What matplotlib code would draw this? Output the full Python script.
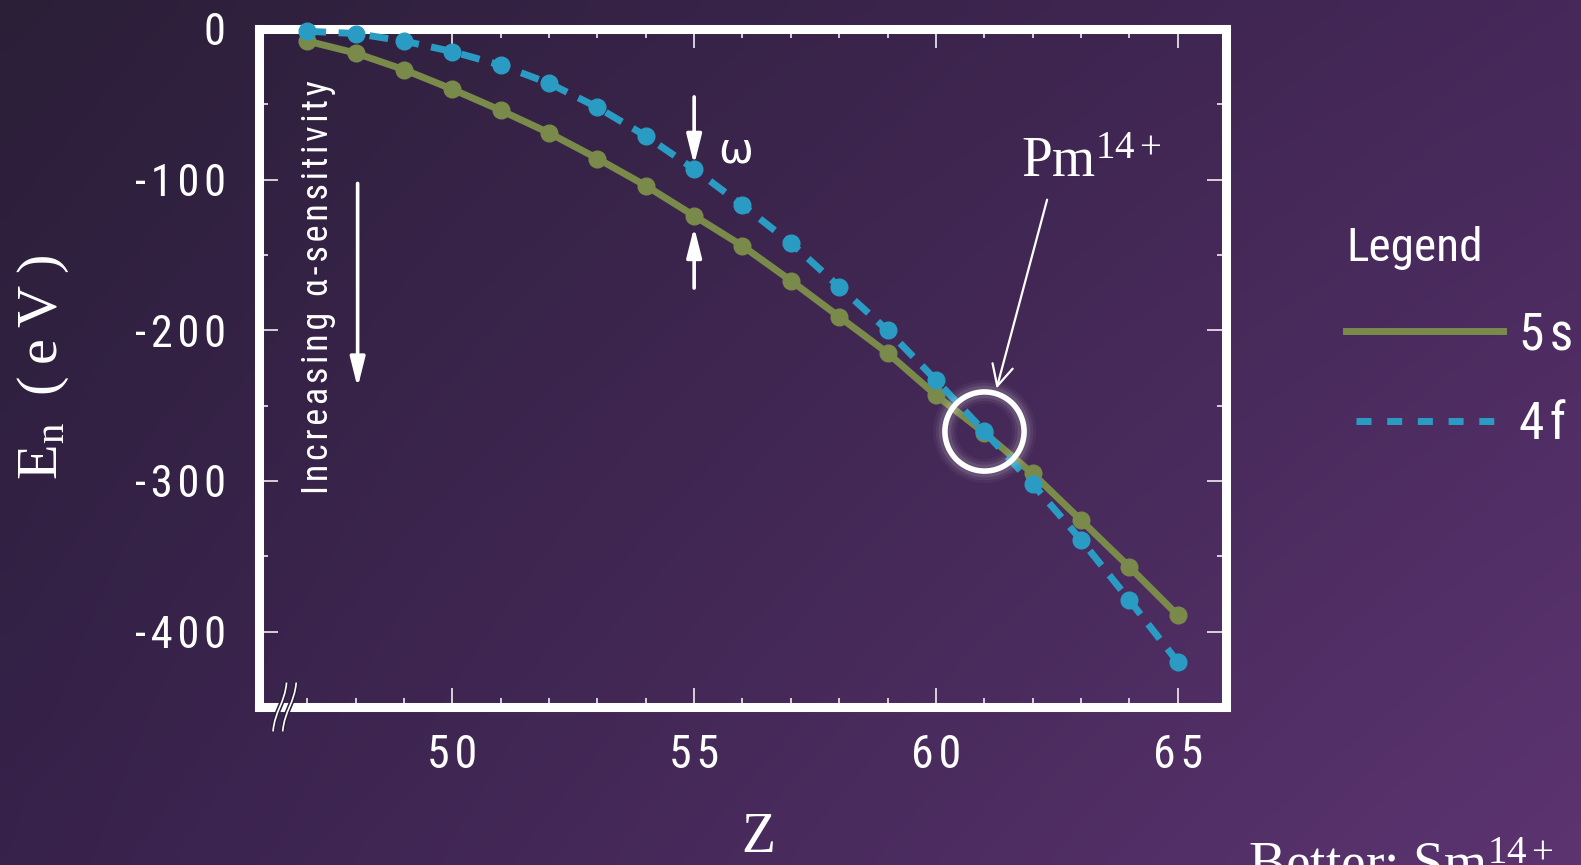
import os
import numpy as np
import matplotlib
matplotlib.use("Agg")
import matplotlib.pyplot as plt
from matplotlib.lines import Line2D
from matplotlib.ticker import MultipleLocator
from matplotlib.path import Path
from matplotlib.patches import PathPatch
from matplotlib import font_manager as fm
from matplotlib.font_manager import FontProperties

# ---------------- data ----------------
Z = [47, 48, 49, 50, 51, 52, 53, 54, 55, 56, 57, 58, 59, 60, 61, 62, 63, 64, 65]
E_5s = [-8, -16, -27, -40, -54, -69, -86, -104, -124, -144, -167, -191, -215, -243, -268, -295, -326, -357, -389]
E_4f = [-1.5, -3, -8, -15, -24, -36, -52, -71, -93, -117, -142, -171, -200, -233, -267, -302, -339, -379, -420]
series_labels = ["5s", "4f"]
x_ticks = [50, 55, 60, 65]
y_ticks = [0, -100, -200, -300, -400]

GREEN = "#7a8a4a"
BLUE = "#2a9cc4"
WHITE = "white"

# ---------------- fonts ----------------
def find_condensed():
    entries = fm.fontManager.ttflist
    prefs = ["NotoSans-ExtraCondensed.", "NotoSans-Condensed.", "LiberationSansNarrow-Regular",
             "RobotoCondensed-Regular", "DejaVuSansCondensed.", "NotoSans-SemiCondensed.",
             "OpenSans-CondensedRegular", "OpenSans_Condensed-Regular"]
    for p in prefs:
        for e in entries:
            if os.path.basename(e.fname).startswith(p):
                return e.fname
    bad = ("Bold", "Italic", "Light", "Thin", "Black", "Medium", "Semi", "Extra", "Oblique")
    for e in entries:
        b = os.path.basename(e.fname)
        if ("Condensed" in b or "Narrow" in b) and not any(x in b for x in bad):
            return e.fname
    return None

COND = find_condensed()

def cfont(size):
    if COND:
        return FontProperties(fname=COND, size=size)
    return FontProperties(family="DejaVu Sans", size=size)

SERIF = ["Liberation Serif", "DejaVu Serif"]
plt.rcParams["font.family"] = ["DejaVu Sans"]
plt.rcParams["mathtext.fontset"] = "custom"
plt.rcParams["mathtext.rm"] = "Liberation Serif"
plt.rcParams["mathtext.it"] = "Liberation Serif:italic"
plt.rcParams["lines.scale_dashes"] = False

HS = "\u200a"  # hair space used as letter tracking

def track(s, sep=HS):
    return sep.join(s)

W, H = 1581, 865
fig = plt.figure(figsize=(W / 100, H / 100), dpi=100)

# ---------------- background gradient ----------------
bg = fig.add_axes([0, 0, 1, 1], zorder=-10)
tl = np.array([43, 31, 56]); tr = np.array([70, 40, 90])
bl = np.array([55, 34, 75]); br = np.array([92, 52, 112])
u = np.linspace(0, 1, 120)[None, :, None]
v = np.linspace(0, 1, 70)[:, None, None]
grad = (tl * (1 - u) * (1 - v) + tr * u * (1 - v) + bl * (1 - u) * v + br * u * v) / 255.0
bg.imshow(grad, aspect="auto", extent=[0, 1, 0, 1], interpolation="bilinear")
bg.set_axis_off()

# ---------------- main axes ----------------
ax = fig.add_axes([259 / W, 1 - 707 / H, (1226 - 259) / W, (707 - 29) / H])
ax.patch.set_alpha(0)

for s in ax.spines.values():
    s.set_color(WHITE)
    s.set_linewidth(6.5)

ax.set_xticks(x_ticks, [track(f"{t:d}") for t in x_ticks], fontproperties=cfont(33))
ax.set_yticks(y_ticks, [track(f"{t:d}") for t in y_ticks], fontproperties=cfont(32))
ax.xaxis.set_minor_locator(MultipleLocator(1))
ax.yaxis.set_minor_locator(MultipleLocator(50))
ax.tick_params(which="both", direction="in", colors=WHITE, top=True, right=True, width=1.1)
ax.tick_params(which="major", length=13.5)
ax.tick_params(which="minor", length=6.8)
ax.tick_params(axis="y", which="major", pad=24)
ax.tick_params(axis="x", which="major", pad=19)
ax.set_xlim(46, 66)
ax.set_ylim(-450, 0)

# ---------------- series ----------------
ax.plot(Z, E_5s, color=GREEN, lw=5, marker="o", ms=12, zorder=3, clip_on=False)
ax.plot(Z, E_4f, color=BLUE, lw=5, marker="o", ms=12, zorder=4, clip_on=False,
        linestyle=(0, (13.5, 9)))

# ---------------- highlight circle (Pm14+) ----------------
iP = Z.index(61)
for mew, a in [(17, 0.04), (13, 0.06), (9, 0.10)]:
    ax.plot([Z[iP]], [E_4f[iP]], marker="o", ms=57, mfc="none", mec=WHITE, mew=mew, alpha=a, zorder=5)
ax.plot([Z[iP]], [E_4f[iP]], marker="o", ms=57, mfc="none", mec=WHITE, mew=4.0, zorder=6)

ax.text(61.77, -98.3, r"Pm$^{\mathrm{14+}}$", fontsize=40, color=WHITE, family=SERIF,
        ha="left", va="baseline")
ax.annotate("", xy=(61.255, -238.6), xytext=(62.30, -113.3),
            arrowprops=dict(arrowstyle="->,head_length=1.0,head_width=0.5", color=WHITE,
                            lw=1.6, mutation_scale=15, shrinkA=0, shrinkB=0))

# ---------------- omega arrows ----------------
i55 = Z.index(55)
arrow_kw = dict(arrowstyle="-|>,head_length=1.2,head_width=0.3", color=WHITE, lw=2.6,
                mutation_scale=15, shrinkA=0)
ax.annotate("", xy=(Z[i55], E_4f[i55]), xytext=(0, 52), textcoords="offset points",
            arrowprops=dict(**arrow_kw, shrinkB=3))
ax.annotate("", xy=(Z[i55], E_5s[i55]), xytext=(0, -52), textcoords="offset points",
            arrowprops=dict(**arrow_kw, shrinkB=8))
ax.text(55.49, -88.5, "\u03c9", fontsize=30, color=WHITE, family=["DejaVu Sans"],
        ha="left", va="baseline")

# ---------------- alpha-sensitivity label & arrow ----------------
ax.text(47.43, -308.7, track("Increasing α-sensitivity"), rotation=90,
        rotation_mode="anchor", ha="left", va="baseline", fontproperties=cfont(26),
        color=WHITE)
ax.annotate("", xy=(48.04, -238.0), xytext=(48.04, -102.5),
            arrowprops=dict(**arrow_kw, shrinkB=0))

# ---------------- axis break marks ----------------
def brk(x0):
    verts = [(x0, -0.036), (x0 + 0.002, -0.005), (x0 + 0.012, 0.005), (x0 + 0.014, 0.036)]
    return Path(verts, [Path.MOVETO, Path.CURVE4, Path.CURVE4, Path.CURVE4])
for x0 in (0.0145, 0.0245):
    ax.add_patch(PathPatch(brk(x0), fill=False, ec=(0.17, 0.12, 0.23), lw=3.5,
                           transform=ax.transAxes, clip_on=False, zorder=7))
    ax.add_patch(PathPatch(brk(x0), fill=False, ec=WHITE, lw=1.2,
                           transform=ax.transAxes, clip_on=False, zorder=8))

# ---------------- axis labels ----------------
fig.text(43 / W, 1 - 367 / H, "E$_{\\mathrm{n}}$\u2009 (\u2009e\u2009V\u2009)", rotation=90,
         ha="center", va="center", fontsize=42, color=WHITE, family=SERIF)
fig.text(758 / W, 1 - 852 / H, "Z", ha="center", va="baseline", fontsize=40,
         color=WHITE, family=SERIF)
fig.text(1248 / W, 1 - 882 / H, r"Better: Sm$^{\mathrm{14+}}$", ha="left", va="baseline",
         fontsize=40, color=WHITE, family=SERIF)

# ---------------- legend ----------------
h1 = Line2D([], [], color=GREEN, lw=5)
h2 = Line2D([], [], color=BLUE, lw=5, linestyle=(14.9, (10.8, 11.3)))
leg = ax.legend([h1, h2], [track(s) for s in series_labels], title="Legend",
                loc="upper left", bbox_to_anchor=(1346 / W, 1 - 226 / H),
                bbox_transform=fig.transFigure, frameon=False, prop=cfont(37),
                title_fontproperties=cfont(34), handlelength=3.05, handletextpad=0.32,
                labelspacing=0.78, alignment="left", borderpad=0, borderaxespad=0)
leg.get_title().set_color(WHITE)
for t in leg.get_texts():
    t.set_color(WHITE)

fig.savefig("out.png", dpi=100)
